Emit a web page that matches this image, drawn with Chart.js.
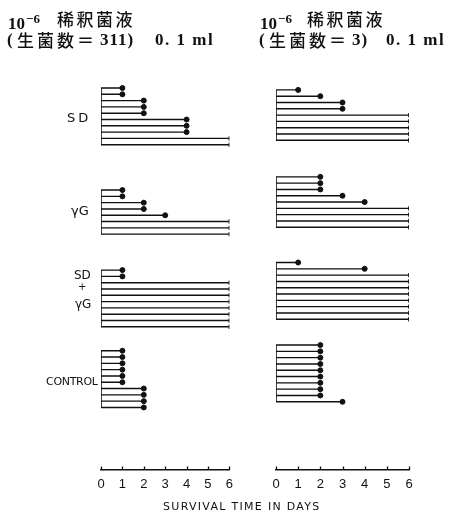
<!DOCTYPE html>
<html>
<head>
<meta charset="utf-8">
<script src="https://cdn.jsdelivr.net/npm/chart.js@4/dist/chart.umd.min.js"></script>
<style>
  html, body { margin: 0; padding: 0; background: #fff; }
  #wrap { position: relative; width: 451px; height: 512px; overflow: hidden; background: #fff; }
  canvas { position: absolute; top: 0; }
  .t { position: absolute; color: #111; white-space: nowrap; }
  .lat { font: bold 17px "Liberation Serif", serif; line-height: 20px; }
  .lat sup { font-size: 13px; vertical-align: 6px; margin-left: 1px; }
  .kj { font: 500 17px "Noto Sans CJK JP", sans-serif; line-height: 20px; letter-spacing: 2.5px; }
  .grp { font: 13px "DejaVu Sans", "Liberation Sans", sans-serif; }
  .axis-title { font: 11px "DejaVu Sans", sans-serif; letter-spacing: 1.3px; }
</style>
</head>
<body>
<div id="wrap">
  <canvas id="left" width="240" height="512" style="left:0;width:240px;height:512px"></canvas>
  <canvas id="right" width="211" height="512" style="left:240px;width:211px;height:512px"></canvas>

  <div class="t lat" style="left:8px;top:9px">10<sup>−6</sup></div>
  <div class="t kj" style="left:57px;top:9px">稀釈菌液</div>
  <div class="t lat" style="left:7px;top:30px">(</div>
  <div class="t kj" style="left:17px;top:30px;letter-spacing:3px">生菌数＝</div>
  <div class="t lat" style="left:100px;top:30px;letter-spacing:1px">311)</div>
  <div class="t lat" style="left:155px;top:30px;letter-spacing:1.5px">0. 1 ml</div>

  <div class="t lat" style="left:260px;top:9px">10<sup>−6</sup></div>
  <div class="t kj" style="left:307px;top:9px">稀釈菌液</div>
  <div class="t lat" style="left:259px;top:30px">(</div>
  <div class="t kj" style="left:269px;top:30px;letter-spacing:3px">生菌数＝</div>
  <div class="t lat" style="left:352px;top:30px;letter-spacing:1px">3)</div>
  <div class="t lat" style="left:386px;top:30px;letter-spacing:1.5px">0. 1 ml</div>

  <div class="t grp" style="left:67px;top:110px;letter-spacing:3px">SD</div>
  <div class="t grp" style="left:71px;top:203px">γG</div>
  <div class="t grp" style="left:74px;top:268px;font-size:12px">SD</div>
  <div class="t grp" style="left:78px;top:281px;font-size:10px">+</div>
  <div class="t grp" style="left:75px;top:297px;font-size:12px">γG</div>
  <div class="t grp" style="left:46px;top:375px;font-size:11px;letter-spacing:-0.3px">CONTROL</div>

  <div class="t axis-title" style="left:163px;top:500px">SURVIVAL TIME IN DAYS</div>
</div>
<script>
// Survival time (days) of each mouse; null = still alive at the end of observation.
const OBS_END = 6;
const dayTicks = [0, 1, 2, 3, 4, 5, 6];
const groupNames = ['SD', 'γG', 'SD+γG', 'CONTROL'];

// 10^-6 dilution, viable count 311, 0.1 ml
const leftSD      = [1, 1, 2, 2, 2, 4, 4, 4, null, null];
const leftGG      = [1, 1, 2, 2, 3, null, null, null];
const leftSDGG    = [1, 1, null, null, null, null, null, null, null, null];
const leftControl = [1, 1, 1, 1, 1, 1, 2, 2, 2, 2];

// 10^-6 dilution, viable count 3, 0.1 ml
const rightSD      = [1, 2, 3, 3, null, null, null, null, null];
const rightGG      = [2, 2, 2, 3, 4, null, null, null, null];
const rightSDGG    = [1, 4, null, null, null, null, null, null, null, null];
const rightControl = [2, 2, 2, 2, 2, 2, 2, 2, 2, 3];

// Layout: first row of each group, in row units along the y scale
const leftGroupTop  = [0, 16.2, 28.9, 41.7];
const rightGroupTop = [0.3, 14.1, 27.7, 40.8];

function buildDatasets(groups, tops) {
  const sets = [];
  groups.forEach((days, g) => {
    const top = tops[g];
    const pts = [];
    days.forEach((d, i) => {
      const y = top + i;
      const end = d == null ? OBS_END : d;
      pts.push({ x: 0, y: y, tip: 'none' });
      pts.push({ x: end, y: y, tip: d == null ? 'alive' : 'dead' });
      pts.push({ x: end, y: null, tip: 'none' });
    });
    sets.push({
      label: groupNames[g],
      data: pts,
      showLine: true,
      spanGaps: false,
      borderColor: '#111',
      backgroundColor: '#111',
      borderWidth: 1.4,
      pointRadius: c => c.raw && c.raw.tip === 'dead' ? 2.5 : (c.raw && c.raw.tip === 'alive' ? 2.2 : 0),
      pointStyle: c => c.raw && c.raw.tip === 'alive' ? 'line' : 'circle',
      rotation: 90,
      pointBorderWidth: c => c.raw && c.raw.tip === 'alive' ? 1.6 : 1,
      pointHoverRadius: 0
    });
    // vertical stem joining the group at day 0
    sets.push({
      label: groupNames[g] + ' stem',
      data: [{ x: 0, y: top }, { x: 0, y: top + days.length - 1 }],
      showLine: true,
      borderColor: '#111',
      borderWidth: 1.6,
      pointRadius: 0
    });
  });
  return sets;
}

// Short upward tick marks on the day axis
const upTicks = {
  id: 'upTicks',
  afterDraw(chart) {
    const xs = chart.scales.x, ctx = chart.ctx, base = chart.chartArea.bottom;
    ctx.save();
    ctx.strokeStyle = '#111';
    ctx.lineWidth = 1.3;
    dayTicks.forEach(v => {
      const px = Math.round(xs.getPixelForValue(v)) + 0.5;
      ctx.beginPath();
      ctx.moveTo(px, base);
      ctx.lineTo(px, base - 3.5);
      ctx.stroke();
    });
    ctx.restore();
  }
};

function makeChart(id, groups, tops, padLeft, padRight) {
  return new Chart(document.getElementById(id), {
    type: 'scatter',
    data: { datasets: buildDatasets(groups, tops) },
    options: {
      responsive: false,
      animation: false,
      events: [],
      layout: { padding: { left: padLeft, right: padRight, top: 80, bottom: 22 } },
      plugins: { legend: { display: false }, tooltip: { enabled: false } },
      scales: {
        x: {
          type: 'linear', min: 0, max: OBS_END,
          afterBuildTicks: s => { s.ticks = dayTicks.map(v => ({ value: v })); },
          afterFit: s => { s.height = 20; },
          grid: { display: false, drawTicks: false },
          border: { display: true, color: '#111', width: 1.4 },
          ticks: { color: '#111', padding: 7, font: { family: 'Liberation Sans', size: 13 }, maxRotation: 0 }
        },
        y: {
          type: 'linear', reverse: true, min: -1.27, max: 60.63, display: false
        }
      }
    },
    plugins: [upTicks]
  });
}

makeChart('left', [leftSD, leftGG, leftSDGG, leftControl], leftGroupTop, 101, 7);
makeChart('right', [rightSD, rightGG, rightSDGG, rightControl], rightGroupTop, 36, 42);
</script>
</body>
</html>
